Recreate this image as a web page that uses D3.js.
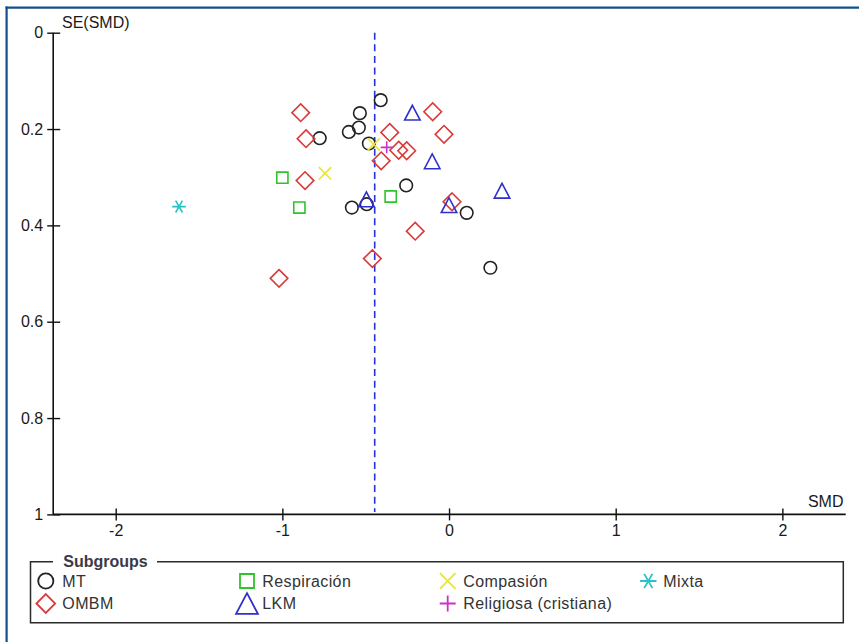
<!DOCTYPE html>
<html>
<head>
<meta charset="utf-8">
<script src="https://cdn.jsdelivr.net/npm/d3@7"></script>
<style>
  html, body { margin: 0; padding: 0; background: #fff; }
  svg { display: block; }
  text { font-family: "Liberation Sans", Arial, sans-serif; }
</style>
</head>
<body>
<svg id="chart" width="859" height="642"></svg>
<script>
// Funnel plot: standardised mean difference (SMD) vs its standard error, by subgroup

const xTicks = [-2, -1, 0, 1, 2];
const xTickLabels = ["-2", "-1", "0", "1", "2"];
const yTicks = [0, 0.2, 0.4, 0.6, 0.8, 1];
const yTickLabels = ["0", "0.2", "0.4", "0.6", "0.8", "1"];

const pooledSMD = -0.446;

// [SMD, SE] per study
const mtSMD  = [-0.410, -0.535, -0.541, -0.601, -0.776, -0.481, -0.257, -0.583, 0.106, 0.248, -0.494];
const mtSE   = [ 0.140,  0.167,  0.197,  0.206,  0.219,  0.230,  0.317,  0.363, 0.374, 0.488,  0.356];

const ombmSMD = [-0.890, -0.858, -0.864, -1.020, -0.356, -0.302, -0.254, -0.407, -0.098, -0.030, 0.018, -0.203, -0.460];
const ombmSE  = [ 0.166,  0.220,  0.307,  0.510,  0.207,  0.244,  0.245,  0.266,  0.164,  0.211, 0.351,  0.412,  0.469];

const respSMD = [-1.000, -0.898, -0.350];
const respSE  = [ 0.301,  0.363,  0.340];

const lkmSMD = [-0.220, -0.101, -0.496, 0.000, 0.318];
const lkmSE  = [ 0.166,  0.267,  0.346, 0.358, 0.328];

const compSMD = [-0.744, -0.452];
const compSE  = [ 0.292,  0.232];

const religSMD = [-0.374];
const religSE  = [ 0.238];

const mixtaSMD = [-1.620];
const mixtaSE  = [ 0.361];

const subgroupNames  = ["MT", "OMBM", "Respiración", "LKM", "Compasión", "Religiosa (cristiana)", "Mixta"];
const subgroupColors = ["#222222", "#d93a3a", "#2ec42e", "#3030cc", "#e6e634", "#cc30cc", "#26c4c4"];
const subgroupShapes = ["circle", "diamond", "square", "triangle", "cross", "plus", "asterisk"];
const subgroupSMD = [mtSMD, ombmSMD, respSMD, lkmSMD, compSMD, religSMD, mixtaSMD];
const subgroupSE  = [mtSE, ombmSE, respSE, lkmSE, compSE, religSE, mixtaSE];

// Legend layout: column and row of each subgroup
const legendCol = [0, 0, 1, 1, 2, 2, 3];
const legendRow = [0, 1, 0, 1, 0, 1, 0];

const svg = d3.select("#chart");

// Outer frame (top and left edges)
svg.append("line").attr("x1", 5.5).attr("x2", 859).attr("y1", 7.7).attr("y2", 7.7)
  .attr("stroke", "#11508a").attr("stroke-width", 2.2);
svg.append("line").attr("x1", 6.6).attr("x2", 6.6).attr("y1", 6.6).attr("y2", 642)
  .attr("stroke", "#11508a").attr("stroke-width", 2.2);

const x = d3.scaleLinear().domain([-2.375, 2.38]).range([53.2, 845.7]);
const y = d3.scaleLinear().domain([0, 1]).range([32.7, 514.4]);

// Symbol path generator, centred on (0,0); s = half-size
function shapePath(shape, s) {
  const p = d3.path();
  switch (shape) {
    case "circle":
      p.moveTo(s, 0); p.arc(0, 0, s, 0, 2 * Math.PI); break;
    case "diamond":
      p.moveTo(0, -s); p.lineTo(s, 0); p.lineTo(0, s); p.lineTo(-s, 0); p.closePath(); break;
    case "square":
      p.rect(-s, -s, 2 * s, 2 * s); break;
    case "triangle": {
      const w = s * 1.05, h = s;
      p.moveTo(0, -h); p.lineTo(w, h); p.lineTo(-w, h); p.closePath(); break;
    }
    case "cross":
      p.moveTo(-s, -s); p.lineTo(s, s); p.moveTo(-s, s); p.lineTo(s, -s); break;
    case "plus":
      p.moveTo(-s, 0); p.lineTo(s, 0); p.moveTo(0, -s); p.lineTo(0, s); break;
    case "asterisk": {
      // six arms: one horizontal bar and two steep diagonals
      const cx = s * Math.cos(Math.PI / 3), sy = s * Math.sin(Math.PI / 3);
      p.moveTo(-s, 0); p.lineTo(s, 0);
      p.moveTo(-cx, -sy); p.lineTo(cx, sy);
      p.moveTo(-cx, sy); p.lineTo(cx, -sy);
      break;
    }
  }
  return p.toString();
}

const plotSize = { circle: 6.3, diamond: 8.8, square: 5.6, triangle: 7.4, cross: 6.2, plus: 6.0, asterisk: 6.8 };
const legendSize = { circle: 7.6, diamond: 9.4, square: 7.0, triangle: 10.4, cross: 7.8, plus: 8.0, asterisk: 8.2 };

// Axes
const yAxis = d3.axisLeft(y).tickValues(yTicks)
  .tickFormat((d, i) => yTickLabels[i]).tickSize(6).tickPadding(4);
const gy = svg.append("g").attr("transform", `translate(${x.range()[0]},0)`).call(yAxis);

const xAxis = d3.axisBottom(x).tickValues(xTicks)
  .tickFormat((d, i) => xTickLabels[i]).tickSize(6).tickPadding(4);
const gx = svg.append("g").attr("transform", `translate(0,${y.range()[1]})`).call(xAxis);

[gx, gy].forEach(g => {
  g.select(".domain").attr("stroke", "#111").attr("stroke-width", 1.6);
  g.selectAll(".tick line").attr("stroke", "#111").attr("stroke-width", 1.4);
  g.selectAll(".tick text").attr("fill", "#1a1a1a").style("font-size", "16px")
    .style("font-family", '"Liberation Sans", Arial, sans-serif');
});
gy.select(".domain").attr("d", `M0,${y.range()[0]}V${y.range()[1]}`);
gx.select(".domain").attr("d", `M${x.range()[0]},0H${x.range()[1]}`);
// ticks cross the axis lines
gy.selectAll(".tick line").attr("x1", 7);
gx.selectAll(".tick line").attr("y1", -6);

svg.append("text").attr("x", 62).attr("y", 27.5).text("SE(SMD)")
  .style("font-size", "16px").attr("fill", "#1a1a1a");
svg.append("text").attr("x", 843.5).attr("y", 507).attr("text-anchor", "end").text("SMD")
  .style("font-size", "16px").attr("fill", "#1a1a1a");

// Pooled estimate
svg.append("line")
  .attr("x1", x(pooledSMD)).attr("x2", x(pooledSMD))
  .attr("y1", y(0)).attr("y2", y(0.995))
  .attr("stroke", "#2233dd").attr("stroke-width", 1.6)
  .attr("stroke-dasharray", "7,4.6");

// Study markers
subgroupNames.forEach((name, k) => {
  const pts = subgroupSMD[k].map((v, i) => ({ smd: v, se: subgroupSE[k][i] }));
  svg.append("g").selectAll("path").data(pts).join("path")
    .attr("transform", d => `translate(${x(d.smd)},${y(d.se)})`)
    .attr("d", shapePath(subgroupShapes[k], plotSize[subgroupShapes[k]]))
    .attr("fill", "none")
    .attr("stroke", subgroupColors[k])
    .attr("stroke-width", 1.6);
});

// Legend
const lg = svg.append("g");
const box = { x0: 30.5, x1: 843.3, y0: 561.7, y1: 622.7 };
lg.append("path")
  .attr("d", `M53,${box.y0}H${box.x0}V${box.y1}H${box.x1}V${box.y0}H157`)
  .attr("fill", "none").attr("stroke", "#2a2a2a").attr("stroke-width", 1.5);
lg.append("text").attr("x", 63.3).attr("y", 567).text("Subgroups")
  .style("font-size", "16px").style("font-weight", "bold").attr("fill", "#3a3a46");

const colSymbolX = [45.8, 247, 447.7, 648.3];
const colTextX = [62.3, 262.3, 463.3, 663.3];
const rowY = [581, 603.5];
subgroupNames.forEach((name, k) => {
  const cx = colSymbolX[legendCol[k]], cy = rowY[legendRow[k]];
  const shape = subgroupShapes[k];
  lg.append("path")
    .attr("transform", `translate(${cx},${cy})`)
    .attr("d", shapePath(shape, legendSize[shape]))
    .attr("fill", "none").attr("stroke", subgroupColors[k]).attr("stroke-width", 1.8);
  lg.append("text").attr("x", colTextX[legendCol[k]]).attr("y", cy)
    .attr("dy", "0.36em").text(name)
    .style("font-size", "16px").style("letter-spacing", "0.4px").attr("fill", "#333");
});
</script>
</body>
</html>
